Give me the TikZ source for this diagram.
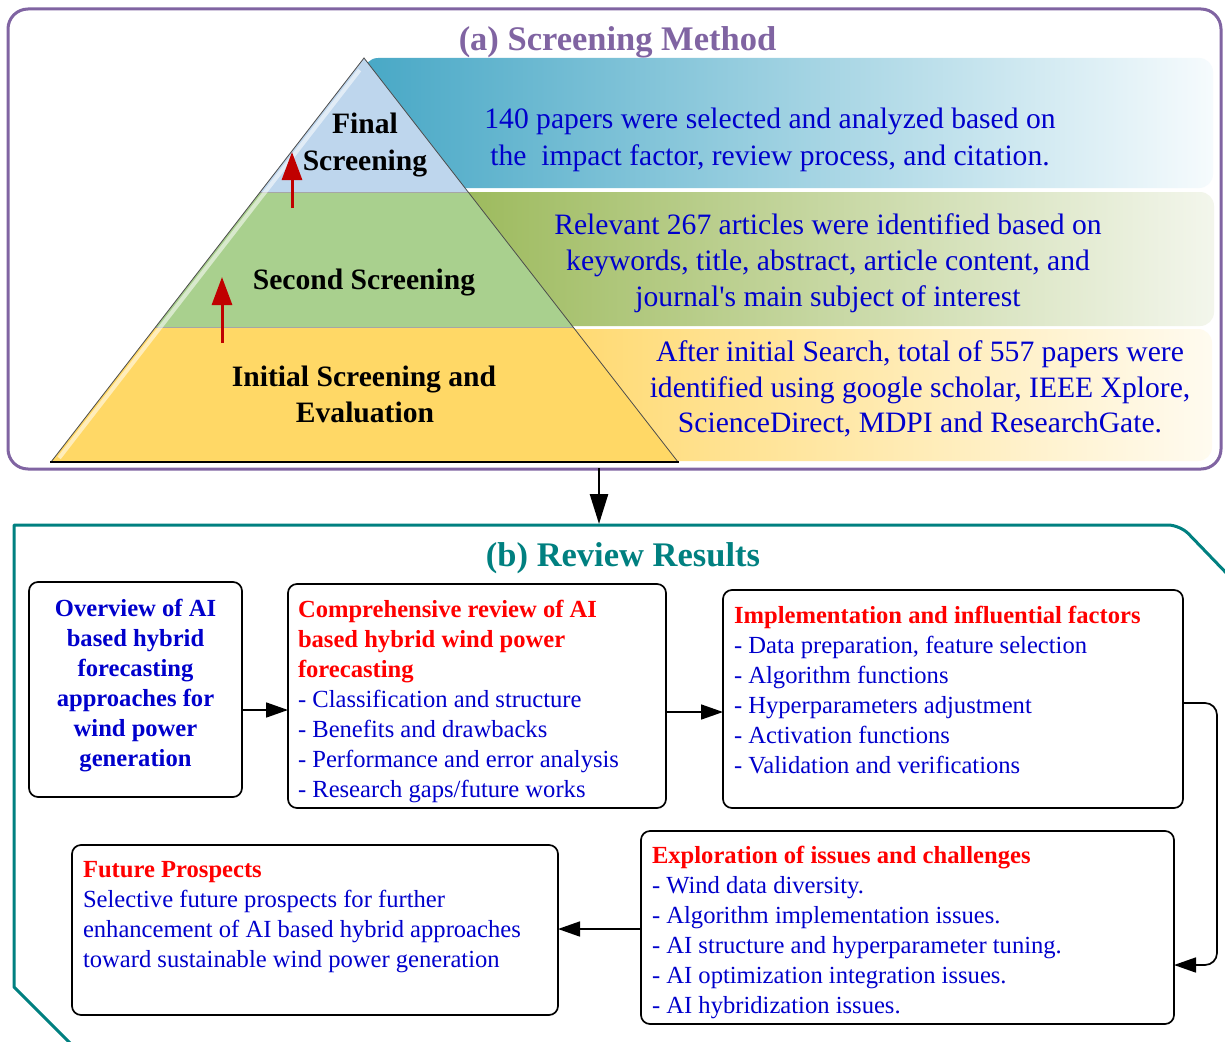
\documentclass[tikz,border=0pt]{standalone}
\usepackage{fontspec}
\setmainfont{Liberation Serif}
\usetikzlibrary{arrows.meta,calc}

\definecolor{framepurple}{RGB}{128,100,162}
\definecolor{frameteal}{RGB}{0,128,128}
\definecolor{txtblue}{RGB}{0,0,204}
\definecolor{txtred}{RGB}{255,0,0}
\definecolor{arrred}{RGB}{192,0,0}
\definecolor{layertop}{RGB}{190,214,237}
\definecolor{layermid}{RGB}{169,208,142}
\definecolor{layerbot}{RGB}{255,216,102}
\definecolor{bandtopL}{RGB}{72,168,198}
\definecolor{bandtopR}{RGB}{246,251,253}
\definecolor{bandmidL}{RGB}{155,185,90}
\definecolor{bandmidR}{RGB}{243,246,236}
\definecolor{bandbotL}{RGB}{255,214,100}
\definecolor{bandbotR}{RGB}{255,251,240}

\newcommand{\ttlfont}{\fontsize{34.5}{40}\selectfont\bfseries}
\newcommand{\bndfont}{\fontsize{29.6}{36}\selectfont}
\newcommand{\bxfont}{\fontsize{24.6}{30}\selectfont}

\begin{document}
\begin{tikzpicture}[x=1pt,y=-1pt,
  every node/.style={inner sep=0pt,outer sep=0pt},
  rbox/.style={draw=black,line width=1.7pt,rounded corners=9pt,anchor=north west},
  conn/.style={line width=1.7pt,-{Triangle[length=22pt,width=15pt]}},
  bigconn/.style={line width=2.6pt,-{Triangle[length=30pt,width=18pt]}},
  redarr/.style={draw=arrred,line width=3pt,-{Triangle[length=28pt,width=20pt]}},
  bandtxt/.style={anchor=base,text=txtblue,font=\bndfont},
  pyrtxt/.style={anchor=base,text=black,font=\bndfont\bfseries},
  headtxt/.style={anchor=base west,text=txtred,font=\bxfont\bfseries},
  itemtxt/.style={anchor=base west,text=txtblue,font=\bxfont},
  ctrtxt/.style={anchor=base,text=txtblue,font=\bxfont\bfseries},
  layer/.style={draw=gray!70,line width=0.6pt}]

\useasboundingbox (0,0) rectangle (1225,1041);
\clip (0,0) rectangle (1225,1041);
\fill[white] (0,0) rectangle (1225,1041);

% ---------- (a) screening method ----------
\draw[framepurple,line width=3pt,rounded corners=20pt] (8,9) rectangle (1221,469);
\node[anchor=base,text=framepurple,font=\ttlfont] (ttla) at (617.5,51) {(a) Screening Method};

% gradient bands behind the pyramid
\shade[left color=bandtopL,right color=bandtopR,rounded corners=14pt] (364,58) rectangle (1213,188);
\shade[left color=bandmidL,right color=bandmidR,rounded corners=14pt] (447,192) rectangle (1214,326);
\shade[left color=bandbotL,right color=bandbotR,rounded corners=14pt] (497,329) rectangle (1212,461);

% pyramid
\coordinate (apex) at (364,58);
\coordinate (bl) at (51,462);
\coordinate (br) at (678,462);
\coordinate (l1) at ($(apex)!1/3!(bl)$);
\coordinate (r1) at ($(apex)!1/3!(br)$);
\coordinate (l2) at ($(apex)!2/3!(bl)$);
\coordinate (r2) at ($(apex)!2/3!(br)$);
\fill[layertop] (apex) -- (r1) -- (l1) -- cycle;
\fill[layermid] (l1) -- (r1) -- (r2) -- (l2) -- cycle;
\fill[layerbot] (l2) -- (r2) -- (br) -- (bl) -- cycle;
\draw[layer] (l1) -- (r1);
\draw[layer] (l2) -- (r2);
\coordinate (hl1) at ($(apex)!0.03!(bl)+(5,0)$);
\coordinate (hl2) at ($(apex)!0.99!(bl)+(5,0)$);
\draw[white,opacity=.55,line width=4pt] (hl1) -- (hl2);
\draw[gray!60!black,line width=0.8pt] (bl) -- (apex) -- (br);
\draw[black,line width=2.5pt] ($(bl)+(-1,0)$) -- ($(br)+(1,0)$);

% red upward arrows
\coordinate (ra1s) at (292,208);
\coordinate (ra1e) at (292,152);
\coordinate (ra2s) at (222,343);
\coordinate (ra2e) at (222,277);
\draw[redarr] (ra1s) -- (ra1e);
\draw[redarr] (ra2s) -- (ra2e);

% pyramid labels
\node[pyrtxt] (pf1) at (365,133) {Final};
\node[pyrtxt] (pf2) at (365,170) {Screening};
\node[pyrtxt] (ps1) at (364,289) {Second Screening};
\node[pyrtxt] (pi1) at (364,386) {Initial Screening and};
\node[pyrtxt] (pi2) at (365,422) {Evaluation};

% band texts
\node[bandtxt] (bt1) at (770,128) {140 papers were selected and analyzed based on};
\node[bandtxt] (bt2) at (770,165) {the~~impact factor, review process, and citation.};
\node[bandtxt] (bm1) at (828,234) {Relevant 267 articles were identified based on};
\node[bandtxt] (bm2) at (828,270) {keywords, title, abstract, article content, and};
\node[bandtxt] (bm3) at (828,306) {journal\textquotesingle s main subject of interest};
\node[bandtxt] (bb1) at (920,361) {After initial Search, total of 557 papers were};
\node[bandtxt] (bb2) at (920,397) {identified using google scholar, IEEE Xplore,};
\node[bandtxt] (bb3) at (920,432) {ScienceDirect, MDPI and ResearchGate.};

% link between the two panels
\coordinate (aout) at (599,468);
\coordinate (bin) at (599,524);
\draw[bigconn] (aout) -- (bin);

% ---------- (b) review results ----------
\draw[frameteal,line width=3pt,line join=round]
  (72,1045) -- (14,987) -- (14,525) -- (1160,525) [rounded corners=12pt] -- (1180,525) -- (1234,581);
\node[anchor=base,text=frameteal,font=\ttlfont] (ttlb) at (623,566) {(b) Review Results};

\node[rbox,minimum width=213pt,minimum height=215pt] (b1) at (29,582) {};
\node[rbox,minimum width=378pt,minimum height=224pt] (b2) at (288,584) {};
\node[rbox,minimum width=460pt,minimum height=218pt] (b3) at (723,590) {};
\node[rbox,minimum width=533pt,minimum height=193pt] (b4) at (641,831) {};
\node[rbox,minimum width=486pt,minimum height=170pt] (b5) at (72,845) {};

% box 1
\foreach \ln [count=\k from 0] in {Overview of AI,based hybrid,forecasting,approaches for,wind power,generation}
  \node[ctrtxt] (b1l\k) at (135.5,616+30*\k) {\ln};

% box 2
\foreach \ln [count=\k from 0] in {Comprehensive review of AI,based hybrid wind power,forecasting}
  \node[headtxt] (b2h\k) at (298,617+30*\k) {\ln};
\foreach \ln [count=\k from 0] in {- Classification and structure,- Benefits and drawbacks,- Performance and error analysis,- Research gaps/future works}
  \node[itemtxt] (b2l\k) at (298,707+30*\k) {\ln};

% box 3
\node[headtxt] (b3h) at (734,623) {Implementation and influential factors};
\foreach \ln [count=\k from 0] in {{- Data preparation, feature selection},- Algorithm functions,- Hyperparameters adjustment,- Activation functions,- Validation and verifications}
  \node[itemtxt] (b3l\k) at (734,653+30*\k) {\ln};

% box 4
\node[headtxt] (b4h) at (652,863) {Exploration of issues and challenges};
\foreach \ln [count=\k from 0] in {- Wind data diversity.,- Algorithm implementation issues.,- AI structure and hyperparameter tuning.,- AI optimization integration issues.,- AI hybridization issues.}
  \node[itemtxt] (b4l\k) at (652,893+30*\k) {\ln};

% box 5
\node[headtxt] (b5h) at (83,877) {Future Prospects};
\foreach \ln [count=\k from 0] in {Selective future prospects for further,enhancement of AI based hybrid approaches,toward sustainable wind power generation}
  \node[itemtxt] (b5l\k) at (83,907+30*\k) {\ln};

% connectors
\coordinate (y12) at (0,710);
\coordinate (y23) at (0,712);
\coordinate (y34a) at (0,703);
\coordinate (y34b) at (0,965);
\coordinate (x34) at (1217,0);
\coordinate (y45) at (0,929);
\draw[conn] (b1.east |- y12) -- (b2.west |- y12);
\draw[conn] (b2.east |- y23) -- (b3.west |- y23);
\draw[conn,rounded corners=12pt] (b3.east |- y34a) -- (x34 |- y34a) -- (x34 |- y34b) -- (b4.east |- y34b);
\draw[conn] (b4.west |- y45) -- (b5.east |- y45);

\end{tikzpicture}
\end{document}
